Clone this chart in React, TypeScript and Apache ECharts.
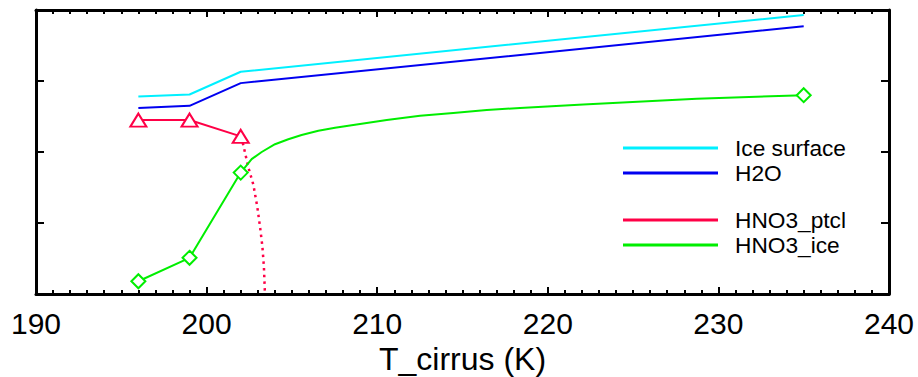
import React, { useEffect, useRef } from 'react';
import * as echarts from 'echarts';

// ---- data ----
const modelTemps = [196, 199, 202, 235];
const iceSurface = [2.78, 2.81, 3.13, 3.93];
const h2o = [2.62, 2.65, 2.97, 3.77];

const ptclTemps = [196, 199, 202];
const hno3Ptcl = [2.45, 2.45, 2.22];

const ptclTailTemps = [202, 202.15, 202.44, 202.74, 202.97, 203.13, 203.27, 203.36, 203.42];
const ptclTail = [2.22, 2.1, 1.79, 1.54, 1.23, 0.95, 0.67, 0.38, 0.0];

const iceTemps = [196, 199, 202, 202.64, 203.23, 204.01, 204.79, 205.57, 206.55, 207.53, 208.6, 210.56, 212.51, 214.46, 216.42, 218.37, 222.08, 228.73, 235];
const hno3Ice = [0.18, 0.51, 1.71, 1.9, 2.0, 2.11, 2.18, 2.24, 2.3, 2.34, 2.38, 2.45, 2.51, 2.55, 2.59, 2.62, 2.67, 2.75, 2.8];
const iceMarkerTemps = [196, 199, 202, 235];

const xMin = 190;
const xMax = 240;
const xStep = 10;
const yMin = 0;
const yMax = 4;
const yStep = 1;

const FONT = '"Liberation Sans", Arial, Helvetica, sans-serif';
const C_ICE = '#00F0FF';
const C_H2O = '#0000F0';
const C_PTCL = '#FF0046';
const C_HICE = '#00EE00';

const pairs = (xs: number[], ys: number[]) => xs.map((x, i) => [x, ys[i]]);

export default function App() {
  const ref = useRef<HTMLDivElement>(null);
  useEffect(() => {
    if (!ref.current) return;
    const chart = echarts.init(ref.current, null, { renderer: 'svg' });

    const xCommon = {
      type: 'value',
      min: xMin,
      max: xMax,
      interval: xStep,
      splitLine: { show: false },
      axisLine: { show: true, onZero: false, lineStyle: { color: '#000', width: 3 } },
      axisTick: { show: true, inside: true, length: 7, lineStyle: { color: '#000', width: 2 } },
      minorTick: { show: true, splitNumber: 10, length: 4, lineStyle: { color: '#000', width: 2 } },
      minorSplitLine: { show: false },
    };
    const yCommon = {
      type: 'value',
      min: yMin,
      max: yMax,
      interval: yStep,
      splitLine: { show: false },
      axisLabel: { show: false },
      axisLine: { show: true, onZero: false, lineStyle: { color: '#000', width: 3 } },
      axisTick: { show: true, inside: true, length: 8, lineStyle: { color: '#000', width: 2 } },
    };

    const legendText = {
      fontFamily: FONT,
      fontSize: 22.7,
      color: '#000',
      lineHeight: 25,
      padding: [0, 0, 0, 12],
    };
    const legendCommon = {
      orient: 'vertical',
      left: 623,
      padding: 0,
      itemGap: 0,
      itemWidth: 95,
      itemHeight: 3,
      icon: 'rect',
      textStyle: legendText,
      selectedMode: false,
    };

    chart.setOption({
      animation: false,
      backgroundColor: '#fff',
      grid: { left: 36, right: 29, top: 10, bottom: 83, containLabel: false, outerBoundsMode: 'none' },
      xAxis: [
        {
          ...xCommon,
          position: 'bottom',
          name: 'T_cirrus (K)',
          nameLocation: 'middle',
          nameGap: 47,
          nameTextStyle: { fontFamily: FONT, fontSize: 32, color: '#000' },
          axisLabel: {
            show: true,
            fontFamily: FONT,
            fontSize: 30,
            color: '#000',
            margin: 14,
            showMinLabel: true,
            showMaxLabel: true,
          },
        },
        {
          ...xCommon,
          position: 'top',
          axisLabel: { show: false },
        },
      ],
      yAxis: [
        { ...yCommon, position: 'left' },
        { ...yCommon, position: 'right' },
      ],
      legend: [
        { ...legendCommon, top: 135.5, data: ['Ice surface', 'H2O'] },
        { ...legendCommon, top: 207.5, data: ['HNO3_ptcl', 'HNO3_ice'] },
      ],
      series: [
        {
          name: 'Ice surface',
          type: 'line',
          data: pairs(modelTemps, iceSurface),
          showSymbol: false,
          symbol: 'none',
          itemStyle: { color: C_ICE },
          lineStyle: { color: C_ICE, width: 2 },
        },
        {
          name: 'H2O',
          type: 'line',
          data: pairs(modelTemps, h2o),
          showSymbol: false,
          symbol: 'none',
          itemStyle: { color: C_H2O },
          lineStyle: { color: C_H2O, width: 2 },
        },
        {
          name: 'ptcl_tail',
          type: 'line',
          data: pairs(ptclTailTemps, ptclTail),
          symbol: 'none',
          itemStyle: { color: C_PTCL },
          lineStyle: { color: C_PTCL, width: 2.5, type: [2.5, 4.2] },
        },
        {
          name: 'HNO3_ice',
          type: 'line',
          data: iceTemps.map((t, i) => ({
            value: [t, hno3Ice[i]],
            symbol: iceMarkerTemps.includes(t) ? 'emptyDiamond' : 'none',
          })),
          symbol: 'emptyDiamond',
          symbolSize: 14,
          showAllSymbol: true,
          itemStyle: { color: C_HICE, borderWidth: 2 },
          lineStyle: { color: C_HICE, width: 2 },
        },
        {
          name: 'HNO3_ptcl',
          type: 'line',
          data: pairs(ptclTemps, hno3Ptcl),
          symbol: 'emptyTriangle',
          symbolSize: [16, 13],
          showAllSymbol: true,
          itemStyle: { color: C_PTCL, borderWidth: 2 },
          lineStyle: { color: C_PTCL, width: 2 },
        },
      ],
    });
    return () => chart.dispose();
  }, []);

  return <div ref={ref} style={{ width: 918, height: 377, position: 'absolute', left: 0, top: 0 }} />;
}
